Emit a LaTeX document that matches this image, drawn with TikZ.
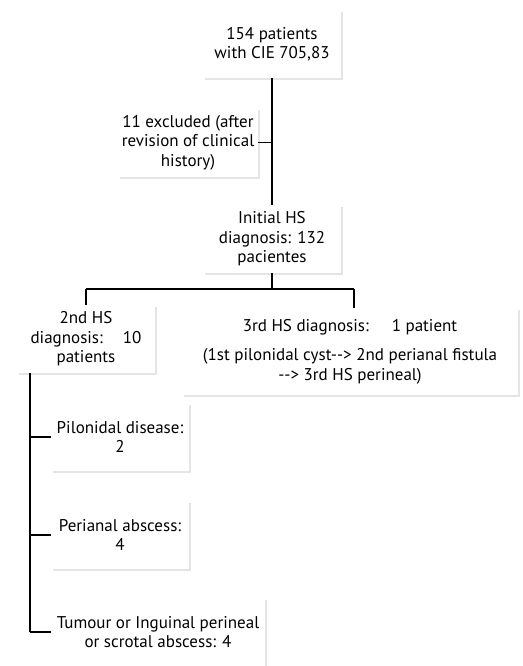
\documentclass[tikz,border=0pt]{standalone}
\usepackage{fontspec}
\newfontfamily\pf{PT Sans}
\usetikzlibrary{shadows}
\tikzset{
  box/.style={fill=white, align=center, inner sep=0pt,
    font=\pf\fontsize{17}{19.5}\selectfont,
    drop shadow={shadow xshift=1.5pt, shadow yshift=-2pt, fill=black!20}},
  conn/.style={draw=black, line width=1.4pt}
}
\begin{document}
\begin{tikzpicture}[x=1pt,y=-1pt]
\useasboundingbox (0,0) rectangle (522,666);
\node[box, minimum width=138pt, minimum height=68pt] (b1) at (272,44) {154 patients\\with CIE 705,83};
\node[box, minimum width=140pt, minimum height=69pt] (ex) at (188,142.5) {11 excluded (after\\revision of clinical\\history)};
\node[box, minimum width=138pt, minimum height=68pt] (b2) at (272,239) {Initial HS\\diagnosis: 132\\pacientes};
\node[box, minimum width=138pt, minimum height=68pt] (b3) at (86,339) {2nd HS\\diagnosis:\hspace{20pt}10\\patients};
\node[box, minimum width=336pt, minimum height=87pt] (b4) at (350,351.5) {3rd HS diagnosis:\hspace{23pt}1 patient\\[10pt](1st pilonidal cyst-\/-> 2nd perianal fistula\\-\/-> 3rd HS perineal)};
\node[box, minimum width=138pt, minimum height=68pt] (p1) at (120,437) {Pilonidal disease:\\2};
\node[box, minimum width=138pt, minimum height=68pt] (p2) at (120,535) {Perianal abscess:\\4};
\node[box, minimum width=214pt, minimum height=68pt] (p3) at (158,632) {Tumour or Inguinal perineal\\or scrotal abscess: 4};
\coordinate (j1) at (272,142.5);
\coordinate (j2) at (272,289);
\coordinate (jl) at (86,289);
\coordinate (jr) at (354,289);
\draw[conn] (b1.south) -- (b2.north);
\draw[conn] (ex.east) -- (j1);
\draw[conn] (b2.south) -- (j2);
\draw[conn] (jl) -- (jr);
\draw[conn] (jl) -- (b3.north);
\draw[conn] (jr) -- (jr |- b4.north);
\draw[conn] (b3.south -| 30,0) -- (30,632);
\draw[conn] (30,437) -- (p1.west);
\draw[conn] (30,535) -- (p2.west);
\draw[conn] (30,632) -- (p3.west);
\end{tikzpicture}
\end{document}
